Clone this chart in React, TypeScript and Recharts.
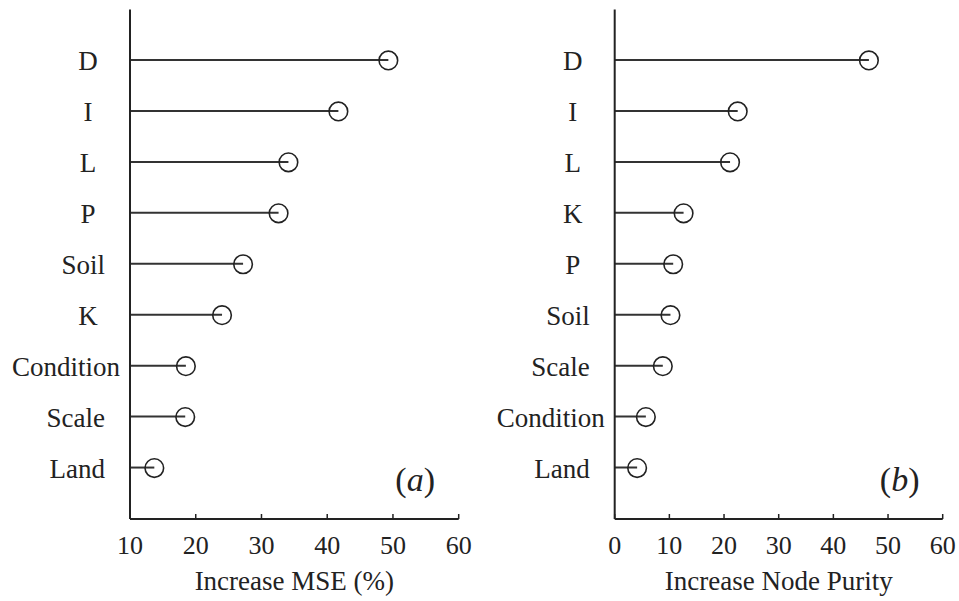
import React from "react";
import {
  ComposedChart,
  Bar,
  Line,
  XAxis,
  YAxis,
} from "recharts";

// panel (a): %IncMSE, top to bottom
const namesA = ["D", "I", "L", "P", "Soil", "K", "Condition", "Scale", "Land"];
const valuesA = [49.3, 41.7, 34.1, 32.6, 27.2, 24.0, 18.5, 18.4, 13.7];
const ticksA = [10, 20, 30, 40, 50, 60];

// panel (b): IncNodePurity, top to bottom
const namesB = ["D", "I", "L", "K", "P", "Soil", "Scale", "Condition", "Land"];
const valuesB = [46.5, 22.5, 21.1, 12.6, 10.7, 10.2, 8.8, 5.7, 4.1];
const ticksB = [0, 10, 20, 30, 40, 50, 60];

const FONT = "Liberation Serif, Times New Roman, serif";
const INK = "#222";

// category labels: single letters sit centred, words end short of the axis
// (x here is already 8px left of the axis line)
const CatTick = (props: any) => {
  const { x, y, payload } = props;
  const s: string = payload.value;
  let tx = x - 17;
  let anchor: "middle" | "end" = "end";
  if (s.length === 1) {
    tx = x - 34;
    anchor = "middle";
  } else if (s.length > 6) {
    tx = x - 2;
  }
  return (
    <text
      x={tx}
      y={y}
      dy={9.5}
      textAnchor={anchor}
      style={{ fontFamily: FONT }}
      fontSize={27}
      fill={INK}
    >
      {s}
    </text>
  );
};

function Panel({
  names,
  values,
  ticks,
  title,
  width,
  left,
  right,
}: {
  names: string[];
  values: number[];
  ticks: number[];
  title: string;
  width: number;
  left: number;
  right: number;
}) {
  const data = names.map((n, i) => ({ name: n, value: values[i] }));
  const inner = ticks.slice(1, -1);
  return (
    <ComposedChart
      width={width}
      height={601}
      layout="vertical"
      data={data}
      margin={{ top: 9.5, right: right, bottom: 0, left: 0 }}
    >
      <XAxis
        xAxisId="b"
        type="number"
        orientation="bottom"
        domain={[ticks[0], ticks[ticks.length - 1]]}
        ticks={ticks}
        height={82}
        tickSize={-5}
        tickMargin={22}
        axisLine={{ stroke: INK, strokeWidth: 2 }}
        tickLine={{ stroke: INK, strokeWidth: 1.5 }}
        tick={{ fontFamily: FONT, fontSize: 26, fill: INK }}
        label={{
          value: title,
          position: "insideBottom",
          offset: 11,
          style: { fontFamily: FONT, fontSize: 27, fill: INK },
        }}
        allowDataOverflow
      />
      <XAxis
        xAxisId="t"
        type="number"
        orientation="top"
        domain={[ticks[0], ticks[ticks.length - 1]]}
        ticks={inner}
        height={0}
        tickSize={-5}
        tick={false}
        axisLine={{ stroke: INK, strokeWidth: 2 }}
        tickLine={{ stroke: INK, strokeWidth: 1.5 }}
      />
      <YAxis
        yAxisId="l"
        type="category"
        dataKey="name"
        width={left}
        padding={{ top: 25.5, bottom: 25.5 }}
        axisLine={{ stroke: INK, strokeWidth: 2 }}
        tickLine={false}
        tick={<CatTick />}
        interval={0}
      />
      <YAxis
        yAxisId="r"
        type="category"
        dataKey="name"
        orientation="right"
        width={0}
        padding={{ top: 25.5, bottom: 25.5 }}
        axisLine={{ stroke: INK, strokeWidth: 2 }}
        tickLine={{ stroke: INK, strokeWidth: 1.5 }}
        tickSize={-5}
        tick={false}
        interval={0}
      />
      <Bar
        xAxisId="b"
        yAxisId="l"
        dataKey="value"
        barSize={2}
        fill="#333"
        isAnimationActive={false}
      />
      <Line
        xAxisId="b"
        yAxisId="l"
        dataKey="value"
        stroke="none"
        dot={{ r: 9.3, fill: "none", stroke: INK, strokeWidth: 1.6 }}
        activeDot={false}
        isAnimationActive={false}
      />
    </ComposedChart>
  );
}

export default function App() {
  return (
    <div
      style={{
        position: "absolute",
        left: 0,
        top: 0,
        width: 959,
        height: 601,
        background: "#fff",
        fontFamily: FONT,
      }}
    >
      <div style={{ position: "absolute", left: 0, top: 0 }}>
        <Panel
          names={namesA}
          values={valuesA}
          ticks={ticksA}
          title="Increase MSE (%)"
          width={480}
          left={130}
          right={21.3}
        />
      </div>
      <div style={{ position: "absolute", left: 480, top: 0 }}>
        <Panel
          names={namesB}
          values={valuesB}
          ticks={ticksB}
          title="Increase Node Purity"
          width={479}
          left={134.7}
          right={16.3}
        />
      </div>
      <svg
        width={959}
        height={601}
        style={{ position: "absolute", left: 0, top: 0, pointerEvents: "none" }}
      >
        <text x={435} y={491} textAnchor="end" style={{ fontFamily: FONT }} fontSize={34} fill={INK}>
          (<tspan fontStyle="italic">a</tspan>)
        </text>
        <text x={919.5} y={491} textAnchor="end" style={{ fontFamily: FONT }} fontSize={34} fill={INK}>
          (<tspan fontStyle="italic">b</tspan>)
        </text>
      </svg>
    </div>
  );
}
